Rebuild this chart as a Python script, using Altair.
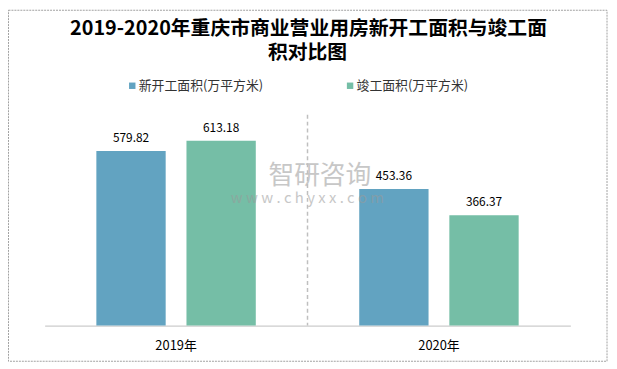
import altair as alt
import pandas as pd

years = ["2019年", "2020年"]
series = ["新开工面积(万平方米)", "竣工面积(万平方米)"]
new_start = [579.82, 453.36]
completed = [613.18, 366.37]
colors = ["#62a3c1", "#75bea6"]
title_lines = ["2019-2020年重庆市商业营业用房新开工面积与竣工面", "积对比图"]

rows = []
for i, yr in enumerate(years):
    rows.append({"year": yr, "series": series[0], "value": new_start[i]})
    rows.append({"year": yr, "series": series[1], "value": completed[i]})
df = pd.DataFrame(rows)
one = pd.DataFrame({"d": [0]})

W, H = 531, 213
FONT = "Noto Sans CJK SC"

x = alt.X("year:N", sort=years,
          scale=alt.Scale(paddingInner=0, paddingOuter=0),
          axis=alt.Axis(title=None, labelAngle=0, ticks=False, domainColor="#bfbfbf",
                        domainWidth=1, labelPadding=14, labelFontSize=13,
                        labelColor="#000000", labelFont=FONT, grid=False))
xo = alt.XOffset("series:N", sort=series,
                 scale=alt.Scale(paddingInner=0.2308, paddingOuter=0.574))
y = alt.Y("value:Q", scale=alt.Scale(domain=[0, 700], nice=False), axis=None)

bars = alt.Chart(df).mark_bar().encode(
    x=x, xOffset=xo, y=y,
    color=alt.Color("series:N", sort=series,
                    scale=alt.Scale(domain=series, range=colors),
                    legend=alt.Legend(title=None, orient="none", legendX=82, legendY=-36,
                                      direction="horizontal", columnPadding=81,
                                      symbolType="square", symbolSize=42,
                                      symbolStrokeWidth=0, labelFontSize=13,
                                      labelFont=FONT, labelColor="#333333",
                                      labelOffset=0, padding=0, labelLimit=0)),
)

labels = alt.Chart(df).mark_text(baseline="bottom", dy=-6, fontSize=12, font=FONT,
                                 color="#000000").encode(
    x=x, xOffset=xo, y=y, text=alt.Text("value:Q", format=".2f"))

title1 = alt.Chart(one).mark_text(text=title_lines[0], fontSize=20, font=FONT,
                                  fontWeight="bold", color="#000000", align="center",
                                  baseline="middle").encode(
    x=alt.value(W / 2 + 1), y=alt.value(-87))
title2 = alt.Chart(one).mark_text(text=title_lines[1], fontSize=20, font=FONT,
                                  fontWeight="bold", color="#000000", align="center",
                                  baseline="middle").encode(
    x=alt.value(W / 2), y=alt.value(-62))

wm1 = alt.Chart(one).mark_text(text="智研咨询", fontSize=26, font=FONT, color="#9a9a9a",
                               opacity=0.55, align="left", baseline="middle").encode(
    x=alt.value(226), y=alt.value(62))
wm2 = alt.Chart(one).mark_text(text="w w w . c h y x x . c o m", fontSize=15, font=FONT,
                               color="#9a9a9a", opacity=0.55, align="left",
                               baseline="middle").encode(
    x=alt.value(188), y=alt.value(84))

divider = alt.Chart(one).mark_rule(color="#bfbfbf", strokeDash=[4, 3], strokeWidth=1.5).encode(
    x=alt.value(W / 2), y=alt.value(0), y2=alt.value(H))

border = alt.Chart(one).mark_rect(fillOpacity=0, stroke="#a0a0a0", strokeDash=[2, 1],
                                  strokeWidth=1).encode(
    x=alt.value(-36.5), x2=alt.value(568), y=alt.value(-105.5), y2=alt.value(249))

chart = alt.layer(bars, labels, title1, title2, wm1, wm2, divider, border).properties(
    width=W, height=H,
    background="white",
    autosize=alt.AutoSizeParams(type="none"),
    padding={"left": 37, "top": 106, "right": 39, "bottom": 38},
).configure_view(stroke=None)

chart.save("out.html", embed_options={"renderer": "svg", "actions": False})
